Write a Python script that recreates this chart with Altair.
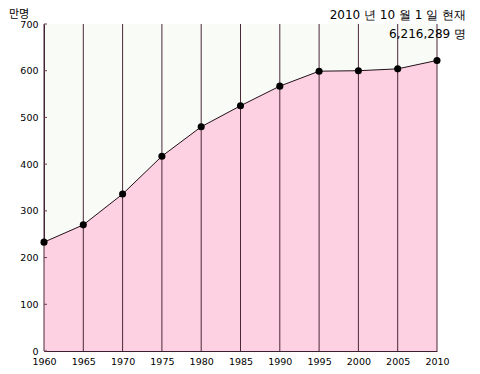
import altair as alt
import pandas as pd

years = [1960, 1965, 1970, 1975, 1980, 1985, 1990, 1995, 2000, 2005, 2010]
population = [233, 270, 336, 417, 480, 525, 567, 599, 600, 604, 622]  # 만명
y_ticks = [0, 100, 200, 300, 400, 500, 600, 700]
unit_label = "만명"
note_line1 = "2010 년 10 월 1 일 현재"
note_line2 = "6,216,289 명"

df = pd.DataFrame({"year": years, "pop": population})
ticks_df = pd.DataFrame({"pop": y_ticks})

W, H = 393, 327
FONT = "DejaVu Sans"

x_scale = alt.Scale(domain=[1960, 2010], nice=False, zero=False)
y_scale = alt.Scale(domain=[0, 700], nice=False)

x_axis = alt.Axis(
    values=years, format="d", title=None, grid=False, ticks=False,
    labelFont=FONT, labelFontSize=9.5, labelColor="#000", labelPadding=5,
    labelOverlap=False, domainColor="#3a2030", labelFlush=False)
y_axis = alt.Axis(
    values=y_ticks, title=None, grid=False, ticks=False,
    labelFont=FONT, labelFontSize=9.5, labelColor="#000", labelPadding=6,
    labelOverlap=False, domainColor="#3a2030")

xs = alt.X("year:Q", scale=x_scale, axis=x_axis)
ys = alt.Y("pop:Q", scale=y_scale, axis=y_axis)

base = alt.Chart(df)

area = base.mark_area(color="#fdd0e2", opacity=1).encode(x=xs, y=ys)

rules = base.mark_rule(color="#4a2838", strokeWidth=1).encode(
    x=xs, y=alt.value(0), y2=alt.value(H))

yticks = alt.Chart(ticks_df).mark_rule(color="#6a3850", strokeWidth=1).encode(
    y=ys, x=alt.value(0), x2=alt.value(3))

line = base.mark_line(color="#201018", strokeWidth=1).encode(x=xs, y=ys)

points = base.mark_circle(color="#000", opacity=1, size=50).encode(x=xs, y=ys)

txt_unit = alt.Chart(pd.DataFrame({"t": [unit_label]})).mark_text(
    font="Noto Sans CJK KR", fontSize=11, align="left", baseline="top",
    color="#000").encode(text="t:N", x=alt.value(-35), y=alt.value(-15))

txt_note1 = alt.Chart(pd.DataFrame({"t": [note_line1]})).mark_text(
    font="DejaVu Sans", fontSize=12, align="right", baseline="alphabetic",
    color="#000").encode(text="t:N", x=alt.value(422), y=alt.value(-5))

txt_note2 = alt.Chart(pd.DataFrame({"t": [note_line2]})).mark_text(
    font="DejaVu Sans", fontSize=12, align="right", baseline="alphabetic",
    color="#000").encode(text="t:N", x=alt.value(422), y=alt.value(14))

chart = alt.layer(area, rules, yticks, line, points, txt_unit, txt_note1, txt_note2).properties(
    width=W, height=H,
    autosize=alt.AutoSizeParams(type="none"),
    padding={"left": 36, "top": 16, "right": 30, "bottom": 20},
).configure_view(fill="#f9fbf7", stroke=None).configure_axis(labelOverlap=False)

chart.save("out.html", embed_options={"renderer": "svg", "actions": False})
